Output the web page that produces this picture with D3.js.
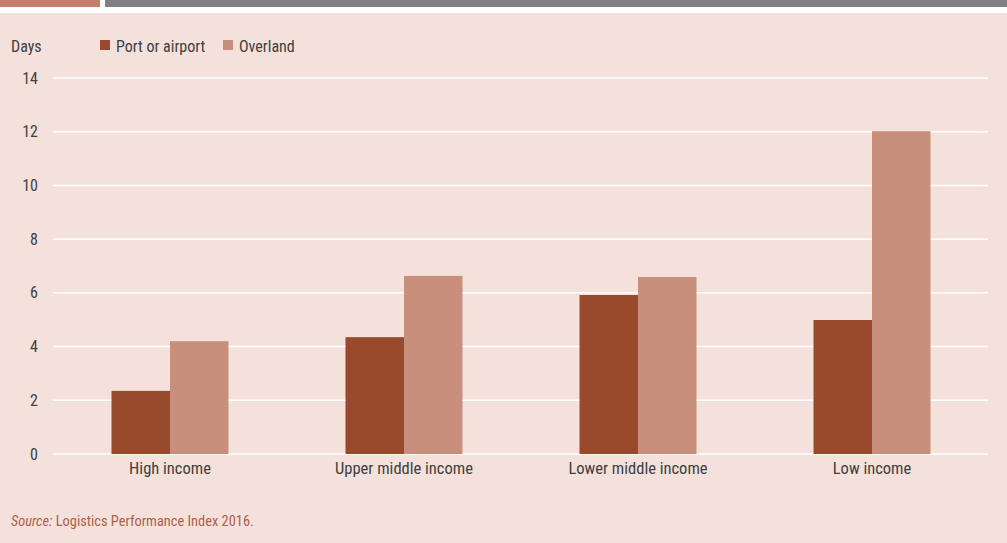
<!DOCTYPE html>
<html><head><meta charset="utf-8">
<script src="https://cdn.jsdelivr.net/npm/d3@7"></script>
<style>
html,body{margin:0;padding:0;background:#fff;}
svg{display:block;}
text{font-family:"Liberation Sans Narrow","Roboto Condensed","Arial Narrow",Roboto,sans-serif;}
</style></head><body>
<svg id="c" width="1007" height="543"></svg>
<script>
const categories = ["High income","Upper middle income","Lower middle income","Low income"];
const seriesNames = ["Port or airport","Overland"];
const portValues = [2.35, 4.35, 5.92, 4.99];
const overlandValues = [4.2, 6.63, 6.59, 12.02];
const yTicks = [0,2,4,6,8,10,12,14];
const colors = ["#994a2c","#c98f7d"];

const svg = d3.select("#c");
const W = 1007, H = 543;
svg.append("rect").attr("x",0).attr("y",13).attr("width",W).attr("height",H-13).attr("fill","#f5e1dc");
svg.append("rect").attr("x",0).attr("y",0).attr("width",100).attr("height",7).attr("fill","#c3806a");
svg.append("rect").attr("x",105).attr("y",0).attr("width",W-105).attr("height",7).attr("fill","#808084");

const x = d3.scaleBand().domain(categories).range([53,989]).paddingInner(0.5).paddingOuter(0.25);
const x1 = d3.scaleBand().domain(seriesNames).range([0,x.bandwidth()]);
const y = d3.scaleLinear().domain([0,14]).range([454,78]);

svg.append("g").selectAll("line").data(yTicks).join("line")
  .attr("x1",53).attr("x2",988).attr("y1",d=>y(d)).attr("y2",d=>y(d))
  .attr("stroke","#ffffff").attr("stroke-width",1.5);

svg.append("g").selectAll("text").data(yTicks).join("text")
  .attr("x",38).attr("y",d=>y(d)).attr("dy","0.35em").attr("text-anchor","end")
  .attr("font-size",16).attr("fill","#404040").text(d=>d);

const data = categories.map((c,i)=>({cat:c, vals:[portValues[i], overlandValues[i]]}));
const g = svg.append("g").selectAll("g").data(data).join("g")
  .attr("transform",d=>`translate(${x(d.cat)},0)`);
g.selectAll("rect").data(d=>d.vals.map((v,j)=>({name:seriesNames[j],v,j}))).join("rect")
  .attr("x",d=>x1(d.name)).attr("width",x1.bandwidth())
  .attr("y",d=>y(d.v)).attr("height",d=>y(0)-y(d.v)).attr("fill",d=>colors[d.j]);

svg.append("g").selectAll("text").data(categories).join("text")
  .attr("x",d=>x(d)+x.bandwidth()/2).attr("y",474).attr("text-anchor","middle")
  .attr("font-size",16.5).attr("fill","#404040").text(d=>d);

svg.append("text").attr("x",11).attr("y",52).attr("font-size",16).attr("fill","#404040").text("Days");
const legX = [100,223];
seriesNames.forEach((n,i)=>{
  svg.append("rect").attr("x",legX[i]).attr("y",40).attr("width",10).attr("height",10).attr("fill",colors[i]);
  svg.append("text").attr("x",legX[i]+16).attr("y",52).attr("font-size",16).attr("fill","#404040").text(n);
});

const s = svg.append("text").attr("x",11).attr("y",526).attr("font-size",14.4).attr("fill","#b05e48");
s.append("tspan").attr("font-style","italic").text("Source:");
s.append("tspan").text(" Logistics Performance Index 2016.");
</script>
</body></html>
